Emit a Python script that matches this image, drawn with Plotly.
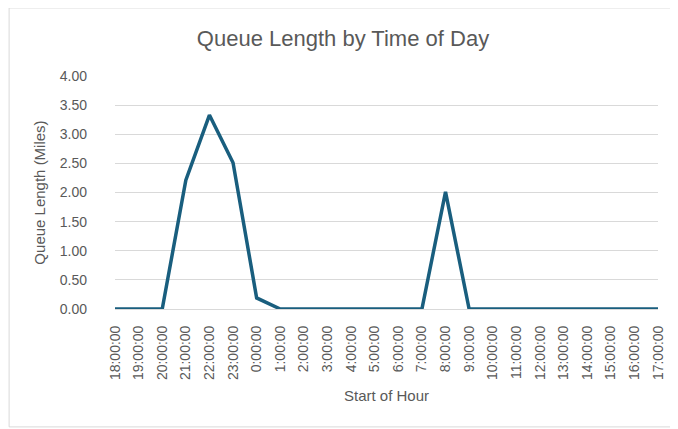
import plotly.graph_objects as go

hours = ["18:00:00", "19:00:00", "20:00:00", "21:00:00", "22:00:00", "23:00:00",
         "0:00:00", "1:00:00", "2:00:00", "3:00:00", "4:00:00", "5:00:00",
         "6:00:00", "7:00:00", "8:00:00", "9:00:00", "10:00:00", "11:00:00",
         "12:00:00", "13:00:00", "14:00:00", "15:00:00", "16:00:00", "17:00:00"]
queue_miles = [0, 0, 0, 2.21, 3.33, 2.51, 0.19, 0, 0, 0, 0, 0,
               0, 0, 2.01, 0, 0, 0, 0, 0, 0, 0, 0, 0]
y_ticks = [0, 0.5, 1, 1.5, 2, 2.5, 3, 3.5, 4]

font_name = "Liberation Sans"
grey = "#595959"

fig = go.Figure(go.Scatter(
    x=hours,
    y=queue_miles,
    mode="lines",
    line=dict(color="#195e7e", width=3.5),
))

# page body adds 8px margin, so the figure is 8px smaller than the window
fig.update_layout(
    width=670,
    height=421,
    margin=dict(l=107, r=14, t=68, b=120),
    paper_bgcolor="white",
    plot_bgcolor="white",
    showlegend=False,
    font=dict(family=font_name, color=grey, size=14),
    title=dict(text="Queue Length by Time of Day", x=0.5, xanchor="center",
               y=0.929, yanchor="middle",
               font=dict(family=font_name, size=22, color=grey)),
    xaxis=dict(
        type="category",
        tickangle=-90,
        showgrid=False,
        showline=True,
        linecolor="#d9d9d9",
        linewidth=1,
        ticks="",
        ticklabelstandoff=10,
        tickfont=dict(size=14, color=grey),
        title=dict(text="Start of Hour", font=dict(size=15, color=grey), standoff=11),
    ),
    yaxis=dict(
        range=[0, 4.0],
        tickvals=y_ticks,
        ticktext=[f"{v:.2f}" for v in y_ticks],
        showgrid=True,
        gridcolor="#d9d9d9",
        gridwidth=1,
        zeroline=False,
        ticks="",
        ticklabelstandoff=27,
        tickfont=dict(size=14, color=grey),
        title=dict(text="Queue Length (Miles)", font=dict(size=15, color=grey), standoff=10),
    ),
    shapes=[dict(
        type="rect", xref="paper", yref="paper",
        x0=-0.195, x1=1.03, y0=-0.506, y1=1.292,
        line=dict(color="#d9d9d9", width=1), fillcolor="rgba(0,0,0,0)", layer="below",
    )],
)

fig.write_html("out.html")
